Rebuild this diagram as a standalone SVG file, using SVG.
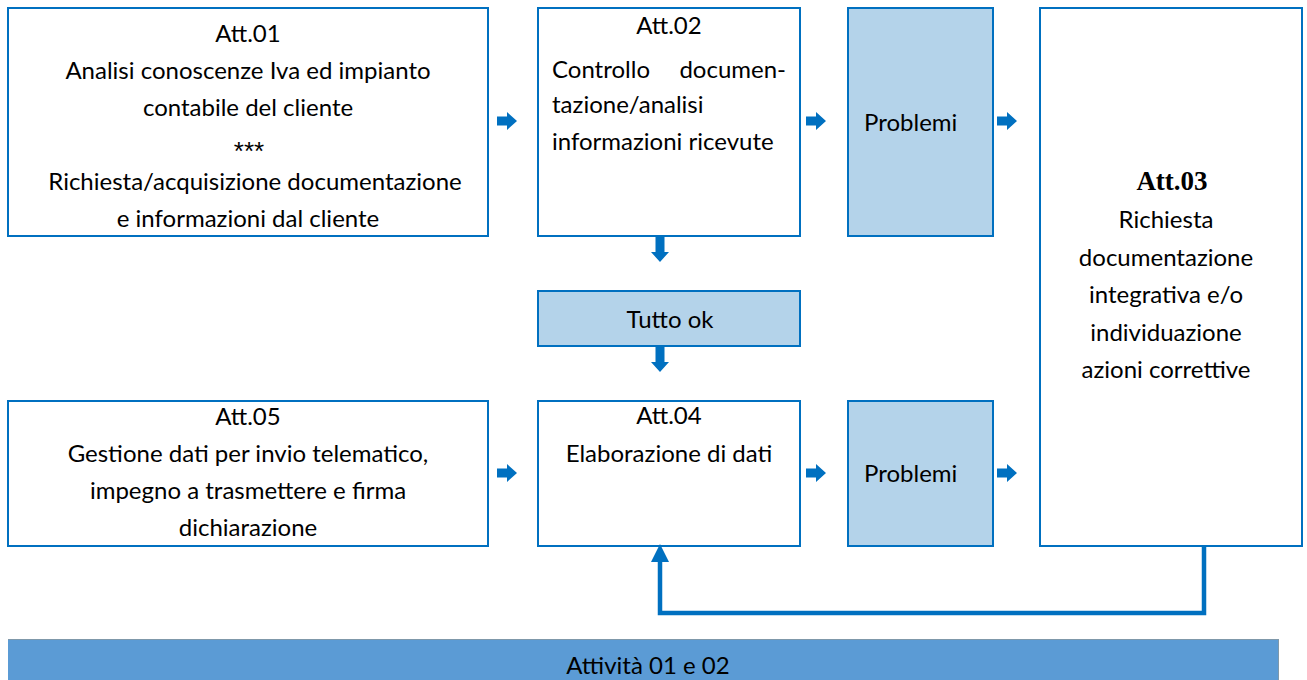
<svg xmlns="http://www.w3.org/2000/svg" width="1307" height="680" viewBox="0 0 1307 680">
<style>
.box{fill:#ffffff;stroke:#0070C0;stroke-width:2}
.hl{fill:#B4D3EA;stroke:#0070C0;stroke-width:2}
.t{font-family:Lato,"Liberation Sans",sans-serif;font-size:24px;fill:#000}
.c{text-anchor:middle}
.b{font-family:"Liberation Serif",serif;font-size:27px;font-weight:bold;fill:#000}
.arr{fill:#0070C0}
</style>
<defs>
<path id="ra" d="M0,-4.5 H10 V-9 L20,0 L10,9 V4.5 H0 Z"/>
<path id="da" d="M-4.5,0 V16 H-9 L0,26 L9,16 H4.5 V0 Z"/>
</defs>
<rect x="0" y="0" width="1307" height="680" fill="#ffffff"/>

<g id="att01">
<rect class="box" x="8" y="8" width="480" height="228"/>
<text class="t c" x="248" y="42">Att.01</text>
<text class="t c" x="248" y="79">Analisi conoscenze Iva ed impianto</text>
<text class="t c" x="248" y="116">contabile del cliente</text>
<text class="c" x="249" y="160" font-family="'Liberation Sans',sans-serif" font-size="26" fill="#000">***</text>
<text class="t c" x="255" y="190">Richiesta/acquisizione documentazione</text>
<text class="t c" x="248" y="227">e informazioni dal cliente</text>
</g>

<g id="att02">
<rect class="box" x="538" y="8" width="262" height="228"/>
<text class="t c" x="669" y="34">Att.02</text>
<text class="t" x="552" y="78">Controllo</text>
<text class="t" x="786" y="78" text-anchor="end">documen-</text>
<text class="t" x="552" y="113">tazione/analisi</text>
<text class="t" x="552" y="150">informazioni ricevute</text>
</g>

<g id="problemi1">
<rect class="hl" x="848" y="8" width="145" height="228"/>
<text class="t" x="864" y="131">Problemi</text>
</g>

<g id="att03">
<rect class="box" x="1040" y="8" width="262" height="538"/>
<text class="b c" x="1172" y="190">Att.03</text>
<text class="t c" x="1166" y="228">Richiesta</text>
<text class="t c" x="1166" y="266">documentazione</text>
<text class="t c" x="1166" y="303">integrativa e/o</text>
<text class="t c" x="1166" y="341">individuazione</text>
<text class="t c" x="1166" y="378">azioni correttive</text>
</g>

<g id="tuttook">
<rect class="hl" x="538" y="291" width="262" height="55"/>
<text class="t c" x="670" y="328">Tutto ok</text>
</g>

<g id="att05">
<rect class="box" x="8" y="401" width="480" height="145"/>
<text class="t c" x="248" y="425">Att.05</text>
<text class="t c" x="248" y="462">Gestione dati per invio telematico,</text>
<text class="t c" x="248" y="499">impegno a trasmettere e firma</text>
<text class="t c" x="248" y="536">dichiarazione</text>
</g>

<g id="att04">
<rect class="box" x="538" y="401" width="262" height="145"/>
<text class="t c" x="669" y="424">Att.04</text>
<text class="t c" x="669" y="462">Elaborazione di dati</text>
</g>

<g id="problemi2">
<rect class="hl" x="848" y="401" width="145" height="145"/>
<text class="t" x="864" y="482">Problemi</text>
</g>

<g id="bar">
<rect x="8" y="639" width="1271" height="45" fill="#5B9BD5"/>
<line x1="8" y1="639.5" x2="1279" y2="639.5" stroke="#7F98AA" stroke-width="1"/>
<line x1="1278.5" y1="639" x2="1278.5" y2="680" stroke="#7F98AA" stroke-width="1"/>
<text class="t c" x="648" y="674">Attività 01 e 02</text>
</g>

<g id="connectors">
<use href="#ra" class="arr" x="497" y="121"/>
<use href="#ra" class="arr" x="806" y="121"/>
<use href="#ra" class="arr" x="997" y="121"/>
<use href="#ra" class="arr" x="497" y="473"/>
<use href="#ra" class="arr" x="806" y="473"/>
<use href="#ra" class="arr" x="997" y="473"/>
<use href="#da" class="arr" x="660" y="236"/>
<use href="#da" class="arr" x="660" y="346"/>
<polyline points="1204,546 1204,613 660,613 660,560" fill="none" stroke="#0070C0" stroke-width="4.5"/>
<path d="M660,544 L669,562 L651,562 Z" fill="#0070C0"/>
</g>
</svg>
